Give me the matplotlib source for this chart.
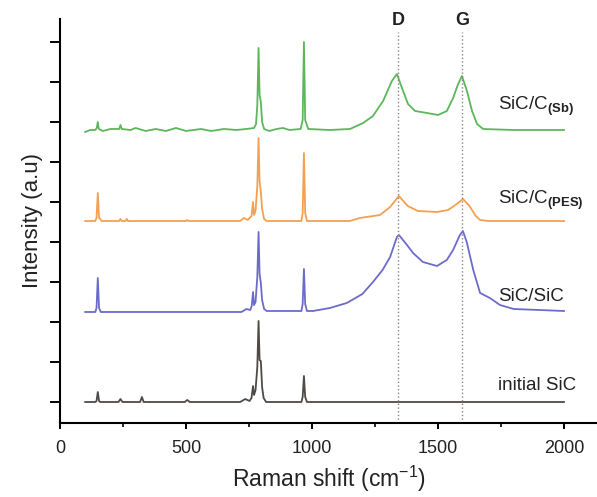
import matplotlib
matplotlib.use("Agg")
import matplotlib.pyplot as plt
from matplotlib.ticker import MultipleLocator

plt.rcParams['font.family'] = ['Liberation Sans', 'DejaVu Sans']
plt.rcParams['mathtext.fontset'] = 'custom'
plt.rcParams['mathtext.rm'] = 'Liberation Sans'
plt.rcParams['mathtext.bf'] = 'Liberation Sans:bold'

# spectra: Raman shift (cm-1) and intensity above each baseline (a.u.)
sic_x = [100, 140, 145, 150, 155, 160, 232, 240, 248, 318, 325, 332, 495, 505, 515, 715, 735, 752,
         760, 766, 770, 776, 783, 788, 792, 797, 802, 808, 818, 958, 963, 968, 973, 980, 2000]
sic_y = [0, 0, 1, 10, 1, 0, 0, 3, 0, 0, 5, 0, 0, 2, 0, 0, 3, 1,
         4, 16, 7, 12, 35, 81, 42, 41, 15, 4, 0, 0, 5, 26, 5, 0, 0]

sicsic_x = [100, 140, 145, 150, 155, 162, 500, 720, 740, 755, 761, 766, 770, 776, 783, 788, 792, 797,
            802, 810, 820, 958, 963, 968, 973, 980, 1004, 1071, 1138, 1200, 1242, 1280, 1310, 1337,
            1345, 1377, 1401, 1440, 1496, 1535, 1560, 1587, 1599, 1614, 1640, 1667, 1706, 1746,
            1800, 1900, 2000]
sicsic_y = [0, 0, 4, 34, 4, 0, 0, 0, 3, 2, 6, 20, 7, 10, 35, 80, 38, 29,
            12, 3, 1, 1, 8, 43, 8, 1, 1, 4, 9, 18, 30, 42, 55, 75,
            77, 67, 59, 50, 46, 52, 62, 77, 81, 70, 42, 19, 14, 7,
            3, 2, 1]

pes_x = [100, 140, 145, 150, 155, 160, 165, 235, 240, 245, 260, 265, 270, 500, 505, 510, 715, 730,
         745, 760, 766, 770, 776, 783, 788, 792, 797, 802, 810, 820, 958, 963, 968, 973, 980, 1150,
         1190, 1270, 1310, 1345, 1380, 1420, 1496, 1540, 1575, 1599, 1625, 1650, 1667, 1700, 2000]
pes_y = [0, 0, 3, 28, 3, 2, 0, 0, 2, 0, 0, 2, 0, 0, 1, 0, 0, 3,
         1, 5, 19, 6, 10, 35, 83, 40, 29, 12, 2, 0, 0, 8, 68, 8, 0, 0,
         3, 6, 14, 25, 15, 10, 9, 11, 17, 22, 15, 5, 1, 0, 0]

sb_x = [100, 120, 140, 146, 150, 154, 170, 200, 235, 240, 245, 280, 300, 340, 380, 420, 460, 500,
        560, 600, 650, 700, 740, 770, 778, 783, 788, 792, 797, 802, 810, 830, 860, 885, 910, 955,
        963, 968, 973, 985, 1071, 1151, 1203, 1242, 1282, 1317, 1337, 1357, 1381, 1409, 1456,
        1500, 1535, 1560, 1580, 1595, 1615, 1635, 1655, 1679, 1800, 2000]
sb_y = [-2, 0, 0, 2, 8, 1, -1, 1, 1, 5, 1, 0, 2, -1, 1, -1, 2, -1,
        1, -1, 1, 0, 1, 2, 6, 25, 82, 35, 28, 8, 1, -1, 1, 2, 0, 1,
        10, 88, 10, 1, 0, 1, 7, 14, 29, 49, 56, 42, 26, 19, 17,
        15, 19, 32, 46, 54, 39, 19, 6, 1, 0, 0]

offsets = [0, 90, 181, 272]
names = ['initial SiC', 'SiC/SiC', r'SiC/C$_{\mathbf{(PES)}}$', r'SiC/C$_{\mathbf{(Sb)}}$']
label_y = [16, 105, 202, 296]
colors = ['#4f4a47', '#6c6bcc', '#f4a052', '#5cb65c']
band_pos = [1341, 1595]
band_names = ['D', 'G']

fig = plt.figure(figsize=(5.97, 4.97), dpi=100)
ax = fig.add_axes([0.1005, 0.1489, 0.8995, 0.8129])

series = [(sic_x, sic_y), (sicsic_x, sicsic_y), (pes_x, pes_y), (sb_x, sb_y)]
for (x, y), off, c in zip(series, offsets, colors):
    ax.plot(x, [v + off for v in y], color=c, lw=1.3)

for pos, name in zip(band_pos, band_names):
    ax.plot([pos, pos], [-21, 370], color='#8d8282', lw=1.0, ls=':')
    ax.text(pos, 381, name, ha='center', va='center', fontsize=13, fontweight='bold',
            color='#222222', clip_on=False)

for name, ly in zip(names, label_y):
    ax.text(1738, ly, name, ha='left', va='center', fontsize=13.5, color='#222222')

ax.set_xlim(0, 2131)
ax.set_ylim(-21, 383)
ax.spines['top'].set_visible(False)
ax.spines['right'].set_visible(False)
ax.spines['left'].set_linewidth(1.5)
ax.spines['bottom'].set_linewidth(1.5)

ax.xaxis.set_major_locator(MultipleLocator(500))
ax.xaxis.set_minor_locator(MultipleLocator(250))
ax.set_yticks(range(0, 361, 40))
ax.set_yticklabels([])
ax.tick_params(axis='y', direction='out', length=7, width=1.4)
ax.tick_params(axis='x', which='major', direction='out', length=4, width=1.4, labelsize=13,
               pad=8, labelcolor='#222222')
ax.tick_params(axis='x', which='minor', direction='out', length=3, width=1.2)

ax.set_xlabel(r'Raman shift (cm$^{\mathregular{-1}}$)', fontsize=16.5, labelpad=5, color='#222222')
ax.set_ylabel('Intensity (a.u)', fontsize=16, labelpad=2, color='#222222')

fig.savefig('out.png', dpi=100)
